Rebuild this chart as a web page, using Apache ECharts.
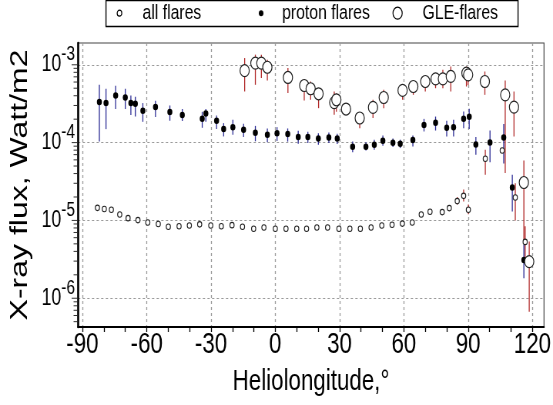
<!DOCTYPE html>
<html>
<head>
<meta charset="utf-8">
<script src="https://cdn.jsdelivr.net/npm/echarts@6/dist/echarts.min.js"></script>
<style>
  html, body { margin: 0; padding: 0; background: #fff; overflow: hidden; width: 553px; height: 405px; }
  #wrap { width: 553px; height: 405px; overflow: hidden; }
  /* the chart is laid out wide and squeezed horizontally to the page width */
  #chart { width: 718px; height: 405px; transform: scaleX(0.7702); transform-origin: 0 0; }
</style>
</head>
<body>
<div id="wrap"><div id="chart"></div></div>
<script>
// ---- axis ranges and ticks ----
const lonMin = -92.05, lonMax = 125.4;          // heliolongitude, degrees
const fluxMin = 4.27e-7, fluxMax = 1.905e-3;    // X-ray flux, W/m2
const lonTicks = [-90, -80, -70, -60, -50, -40, -30, -20, -10, 0, 10, 20, 30, 40, 50, 60, 70, 80, 90, 100, 110, 120];
const lonLabels = [-90, -60, -30, 0, 30, 60, 90, 120];
const fluxMajorTicks = [1e-6, 1e-5, 1e-4, 1e-3];
const fluxMinorTicks = [5e-7, 6e-7, 7e-7, 8e-7, 9e-7,
  2e-6, 3e-6, 4e-6, 5e-6, 6e-6, 7e-6, 8e-6, 9e-6,
  2e-5, 3e-5, 4e-5, 5e-5, 6e-5, 7e-5, 8e-5, 9e-5,
  2e-4, 3e-4, 4e-4, 5e-4, 6e-4, 7e-4, 8e-4, 9e-4];

// ---- all flares ----
const allLon = [-83.0, -79.8, -76.5, -72.6, -68.7, -64.1, -59.5, -54.6, -49.9, -44.9,
  -40.1, -35.3, -30.1, -25.2, -20.2, -15.3, -10.1, -5.3, 0.0, 5.0,
  10.0, 14.6, 19.4, 24.4, 29.7, 34.8, 39.7, 44.7, 49.7, 54.5,
  59.3, 63.9, 68.1, 72.2, 77.9, 81.2, 84.9, 87.9, 90.1, 98.0,
  105.9, 112.0, 116.6];
const allFlux = [1.45e-5, 1.40e-5, 1.37e-5, 1.19e-5, 1.07e-5, 1.01e-5, 9.4e-6, 9.0e-6, 8.3e-6, 8.4e-6,
  8.6e-6, 8.9e-6, 8.6e-6, 8.4e-6, 8.7e-6, 8.3e-6, 7.8e-6, 8.1e-6, 7.8e-6, 7.8e-6,
  7.8e-6, 7.8e-6, 8.1e-6, 8.1e-6, 7.8e-6, 7.8e-6, 7.8e-6, 8.1e-6, 8.6e-6, 8.8e-6,
  9.1e-6, 9.4e-6, 1.19e-5, 1.29e-5, 1.28e-5, 1.44e-5, 1.77e-5, 2.07e-5, 1.37e-5, 6.2e-5,
  7.9e-5, 1.97e-5, 5.3e-6];
const allErrLon = [84.9, 87.9, 90.1, 98.0, 112.0, 116.6];
const allErrLo = [1.6e-5, 1.75e-5, 1.2e-5, 3.86e-5, 1.0e-5, 3.1e-6];
const allErrHi = [2.0e-5, 2.5e-5, 1.6e-5, 8.1e-5, 3.0e-5, 8.4e-6];

// ---- proton flares ----
const protonLon = [-82.1, -79.0, -74.5, -70.0, -67.4, -65.3, -61.8, -55.9, -49.2, -43.4,
  -34.1, -32.4, -27.4, -24.1, -19.8, -14.8, -9.3, -3.7, 0.8, 5.8,
  10.7, 15.2, 20.1, 25.0, 28.9, 36.1, 42.3, 46.2, 50.2, 54.9,
  58.3, 64.2, 69.4, 74.8, 80.0, 83.2, 87.9, 90.5, 93.6, 100.2,
  106.6, 110.6, 116.0];
const protonFlux = [3.32e-4, 3.22e-4, 4.03e-4, 3.80e-4, 3.22e-4, 3.15e-4, 2.56e-4, 2.86e-4, 2.47e-4, 2.26e-4,
  2.02e-4, 2.37e-4, 1.91e-4, 1.50e-4, 1.58e-4, 1.46e-4, 1.34e-4, 1.26e-4, 1.32e-4, 1.29e-4,
  1.18e-4, 1.18e-4, 1.13e-4, 1.16e-4, 1.13e-4, 8.83e-5, 8.83e-5, 9.37e-5, 1.06e-4, 9.93e-5,
  9.66e-5, 1.08e-4, 1.68e-4, 1.80e-4, 1.55e-4, 1.58e-4, 2.02e-4, 2.15e-4, 9.46e-5, 1.00e-4,
  1.16e-4, 2.65e-5, 3.1e-6];
const protonHi = [5.53e-4, 4.92e-4, 5.37e-4, 4.92e-4, 4.03e-4, 3.88e-4, 3.22e-4, 3.44e-4, 3.0e-4, 2.70e-4,
  2.49e-4, 2.70e-4, 2.23e-4, 1.78e-4, 1.96e-4, 1.75e-4, 1.64e-4, 1.52e-4, 1.58e-4, 1.52e-4,
  1.42e-4, 1.38e-4, 1.32e-4, 1.35e-4, 1.30e-4, 1.03e-4, 1.01e-4, 1.09e-4, 1.23e-4, 1.13e-4,
  1.09e-4, 1.23e-4, 2.02e-4, 2.16e-4, 1.91e-4, 1.96e-4, 2.51e-4, 2.72e-4, 1.18e-4, 1.43e-4,
  1.73e-4, 3.86e-5, 4.85e-6];
const protonLo = [1.03e-4, 1.49e-4, 2.70e-4, 2.70e-4, 2.26e-4, 2.16e-4, 1.85e-4, 2.13e-4, 1.91e-4, 1.89e-4,
  1.55e-4, 1.85e-4, 1.50e-4, 1.20e-4, 1.26e-4, 1.18e-4, 1.04e-4, 1.01e-4, 1.05e-4, 1.03e-4,
  9.7e-5, 9.9e-5, 9.4e-5, 9.9e-5, 9.6e-5, 7.5e-5, 7.9e-5, 8.1e-5, 9.1e-5, 8.75e-5,
  8.5e-5, 8.9e-5, 1.39e-4, 1.43e-4, 1.20e-4, 1.20e-4, 1.53e-4, 1.49e-4, 6.97e-5, 5.6e-5,
  5.4e-5, 1.3e-5, 1.81e-6];

// ---- GLE flares ----
const gleLon = [-14.3, -9.3, -6.5, -3.7, 5.9, 13.5, 16.5, 20.2, 27.5, 28.5,
  33.0, 39.4, 45.6, 50.6, 59.4, 64.4, 70.0, 74.8, 78.2, 81.9,
  89.2, 90.0, 97.8, 107.3, 111.4, 116.0, 118.5];
const gleFlux = [8.4e-4, 1.05e-3, 1.05e-3, 9.3e-4, 6.87e-4, 5.42e-4, 4.92e-4, 4.24e-4, 3.27e-4, 3.55e-4,
  2.70e-4, 2.07e-4, 2.83e-4, 3.80e-4, 4.68e-4, 5.26e-4, 6.1e-4, 6.6e-4, 6.6e-4, 7.08e-4,
  7.82e-4, 7.43e-4, 6.1e-4, 4.11e-4, 2.86e-4, 3.07e-5, 2.96e-6];
const gleHi = [1.22e-3, 1.35e-3, 1.35e-3, 1.16e-3, 9.06e-4, 6.55e-4, 6.1e-4, 5.0e-4, 4.54e-4, 4.3e-4,
  3.06e-4, 2.44e-4, 3.55e-4, 4.78e-4, 5.53e-4, 6.1e-4, 7.08e-4, 7.82e-4, 8.63e-4, 9.5e-4,
  9.5e-4, 9.0e-4, 8.2e-4, 6.3e-4, 4.54e-4, 5.9e-5, 5.36e-6];
const gleLo = [4.54e-4, 5.53e-4, 6.74e-4, 6.28e-4, 4.33e-4, 3.47e-4, 3.55e-4, 2.77e-4, 2.28e-4, 2.5e-4,
  2.35e-4, 1.53e-4, 2.07e-4, 2.77e-4, 3.55e-4, 4.11e-4, 4.54e-4, 5.0e-4, 5.0e-4, 4.54e-4,
  5.26e-4, 5.5e-4, 4.11e-4, 4.06e-5, 1.20e-4, 5.0e-6, 6.7e-7];

// ---- styling ----
const FONT = "'Liberation Sans', Arial, sans-serif";
const RED = '#b22a2a';
const BLUE = '#2c2c96';
const GRID_COLOR = '#9a9a9a';

// vertical error bar drawn between two flux values at one longitude
function errorBars(lon, lo, hi, color) {
  return {
    type: 'custom',
    silent: true,
    data: lon.map((x, i) => [x, lo[i], hi[i]]),
    encode: { x: 0, y: [1, 2] },
    renderItem: function (params, api) {
      const a = api.coord([api.value(0), api.value(1)]);
      const b = api.coord([api.value(0), api.value(2)]);
      return {
        type: 'line',
        shape: { x1: a[0], y1: a[1], x2: b[0], y2: b[1] },
        style: { stroke: color, lineWidth: 1.3 }
      };
    }
  };
}

const chart = echarts.init(document.getElementById('chart'), null, { renderer: 'canvas' });

const option = {
  animation: false,
  backgroundColor: '#fff',
  textStyle: { fontFamily: FONT },
  grid: {
    left: 101.3, right: 11.7, top: 43, bottom: 78,
    show: true, borderColor: '#444', borderWidth: 1.2, backgroundColor: 'transparent',
    containLabel: false, outerBoundsMode: 'none'
  },
  graphic: [{
    type: 'rect', silent: true, z: 0,
    shape: { x: 137.6, y: 0.5, width: 535, height: 26 },
    style: { fill: 'none', stroke: '#000', lineWidth: 1.4 }
  }],
  legend: [
    {
      left: 151.5, top: 2.7, padding: 0, itemWidth: 49.8, itemHeight: 6, selectedMode: false,
      textStyle: { fontSize: 20.5, color: '#000', fontFamily: FONT },
      data: [{ name: 'all flares', icon: 'circle', itemStyle: { color: '#fff', borderColor: '#000', borderWidth: 1.2 } }]
    },
    {
      left: 336, top: 2.7, padding: 0, itemWidth: 44.4, itemHeight: 6, selectedMode: false,
      textStyle: { fontSize: 20.5, color: '#000', fontFamily: FONT },
      data: [{ name: 'proton flares', icon: 'circle', itemStyle: { color: '#000', borderWidth: 0 } }]
    },
    {
      left: 509.6, top: 2.7, padding: 0, itemWidth: 54.8, itemHeight: 12, selectedMode: false,
      textStyle: { fontSize: 20.5, color: '#000', fontFamily: FONT },
      data: [{ name: 'GLE-flares', icon: 'circle', itemStyle: { color: '#fff', borderColor: '#000', borderWidth: 1.2 } }]
    }
  ],
  xAxis: [
    {
      type: 'value', min: lonMin, max: lonMax, position: 'bottom',
      axisLine: { show: true, onZero: false, lineStyle: { color: '#000', width: 2 } },
      axisTick: { show: true, customValues: lonTicks, length: 5, lineStyle: { color: '#000', width: 1.3 } },
      axisLabel: { customValues: lonLabels, fontSize: 29, color: '#000', margin: 3, fontFamily: FONT },
      splitLine: { show: false },
      name: 'Heliolongitude,°', nameLocation: 'middle', nameGap: 40,
      nameTextStyle: { fontSize: 29, color: '#000', fontFamily: FONT }
    },
    {
      type: 'value', min: lonMin, max: lonMax, position: 'top',
      axisLine: { show: false, onZero: false },
      axisTick: { show: false, customValues: lonLabels },
      axisLabel: { show: false },
      splitLine: { show: true, lineStyle: { color: GRID_COLOR, type: [3, 3], width: 1.3 } }
    }
  ],
  yAxis: {
    type: 'log', logBase: 10, min: fluxMin, max: fluxMax, position: 'left',
    axisLine: { show: true, onZero: false, lineStyle: { color: '#000', width: 2.6 } },
    axisTick: { show: false },
    axisLabel: {
      showMinLabel: false, showMaxLabel: false, margin: 4, color: '#000',
      formatter: function (v) { return '{b|10}{s|' + Math.round(Math.log10(v)) + '}'; },
      rich: {
        b: { fontSize: 23, verticalAlign: 'middle', color: '#000', fontFamily: FONT },
        // bottom padding lifts the exponent above the base
        s: { fontSize: 20, verticalAlign: 'middle', padding: [0, 0, 20, 0], color: '#000', fontFamily: FONT }
      }
    },
    splitLine: { show: true, showMinLine: false, showMaxLine: false, lineStyle: { color: GRID_COLOR, type: [3, 3], width: 1 } },
    name: 'X-ray flux, Watt/m2', nameLocation: 'middle', nameGap: 59,
    nameTextStyle: { fontSize: 32, color: '#000', fontFamily: FONT }
  },
  series: [
    {
      // decade and sub-decade ticks on the flux axis
      type: 'custom', silent: true, clip: false, z: 5,
      data: fluxMinorTicks.map(v => [lonMin, v, 0]).concat(fluxMajorTicks.map(v => [lonMin, v, 1])),
      renderItem: function (params, api) {
        const p = api.coord([api.value(0), api.value(1)]);
        const len = api.value(2) ? 7 : 4.5;
        return {
          type: 'line',
          shape: { x1: p[0] - 1.3 - len, y1: p[1], x2: p[0] - 1.3, y2: p[1] },
          style: { stroke: '#333', lineWidth: 1 }
        };
      }
    },
    errorBars(allErrLon, allErrLo, allErrHi, RED),
    {
      name: 'all flares', type: 'scatter', silent: true,
      data: allLon.map((x, i) => [x, allFlux[i]]),
      symbol: 'circle', symbolSize: 5.5,
      itemStyle: { color: '#fff', borderColor: '#222', borderWidth: 1.1, opacity: 1 }
    },
    errorBars(protonLon, protonLo, protonHi, BLUE),
    {
      name: 'proton flares', type: 'scatter', silent: true,
      data: protonLon.map((x, i) => [x, protonFlux[i]]),
      symbol: 'circle', symbolSize: 6.5,
      itemStyle: { color: '#000', opacity: 1 }
    },
    errorBars(gleLon, gleLo, gleHi, RED),
    {
      name: 'GLE-flares', type: 'scatter', silent: true,
      data: gleLon.map((x, i) => [x, gleFlux[i]]),
      symbol: 'circle', symbolSize: 12,
      itemStyle: { color: '#fff', borderColor: '#222', borderWidth: 1.2, opacity: 1 }
    }
  ]
};

chart.setOption(option);
</script>
</body>
</html>
